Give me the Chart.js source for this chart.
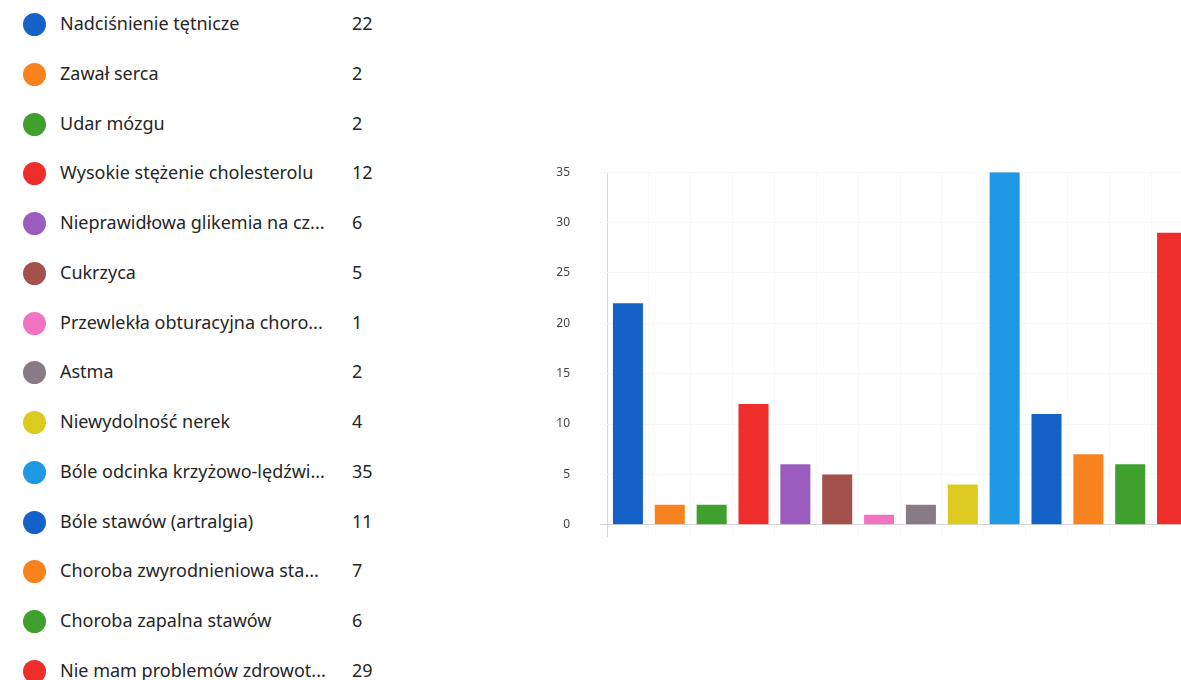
<!DOCTYPE html>
<html>
<head>
<meta charset="utf-8">
<script src="https://cdn.jsdelivr.net/npm/chart.js@4.4.1/dist/chart.umd.min.js"></script>
<style>
  html, body { margin: 0; padding: 0; background: #fff; width: 1181px; height: 680px; overflow: hidden; position: relative; }
  #legend { position: absolute; left: 0; top: 0; width: 400px; font-family: "Noto Sans", "Open Sans", sans-serif; font-size: 18px; color: #262626; }
  .row { position: absolute; left: 0; height: 30px; width: 400px; }
  .dot { position: absolute; left: 23px; top: 3px; width: 23px; height: 23px; border-radius: 50%; }
  .lbl { position: absolute; left: 60px; top: 1px; white-space: nowrap; }
  .val { position: absolute; left: 352px; top: 1px; }
  #wrap { position: absolute; left: 540px; top: 135px; width: 653px; height: 427px; }
</style>
</head>
<body>
<div id="legend"></div>
<div id="wrap"><canvas id="chart"></canvas></div>
<script>
const kategorie = [
    'Nadciśnienie tętnicze',
    'Zawał serca',
    'Udar mózgu',
    'Wysokie stężenie cholesterolu',
    'Nieprawidłowa glikemia na cz...',
    'Cukrzyca',
    'Przewlekła obturacyjna choro...',
    'Astma',
    'Niewydolność nerek',
    'Bóle odcinka krzyżowo-lędźwi...',
    'Bóle stawów (artralgia)',
    'Choroba zwyrodnieniowa sta...',
    'Choroba zapalna stawów',
    'Nie mam problemów zdrowot...'
];
const odpowiedzi = [22, 2, 2, 12, 6, 5, 1, 2, 4, 35, 11, 7, 6, 29];
const kolory = [
    '#1462c8', '#f7821e', '#3fa02e', '#ee2e2a', '#9a5cbf', '#a3514a', '#f272c4',
    '#877b86', '#dccb1e', '#1e98e2', '#1462c8', '#f7821e', '#3fa02e', '#ee2e2a'
];
const osY = [0, 5, 10, 15, 20, 25, 30, 35];

// legenda po lewej
const legend = document.getElementById('legend');
legend.innerHTML = kategorie.map((k, i) => `
    <div class="row" style="top:${10 + i * 49.75}px">
        <span class="dot" style="background:${kolory[i]}"></span>
        <span class="lbl">${k}</span>
        <span class="val">${odpowiedzi[i]}</span>
    </div>`).join('');

const ctx = document.getElementById('chart').getContext('2d');
new Chart(ctx, {
    type: 'bar',
    data: {
        labels: kategorie,
        datasets: [{
            data: odpowiedzi,
            backgroundColor: kolory,
            borderWidth: 0,
            categoryPercentage: 1,
            barPercentage: 0.717
        }]
    },
    options: {
        responsive: true, maintainAspectRatio: false,
        animation: false,
        layout: { padding: { top: 0, right: 0, bottom: 0, left: 0 } },
        plugins: { legend: { display: false }, tooltip: { enabled: false } },
        scales: {
            x: {
                ticks: { display: false },
                grid: {
                    color: c => c.index === 0 ? '#d6d6d6' : '#f9f9f9',
                    tickLength: 12
                },
                border: { color: '#d6d6d6' }
            },
            y: {
                min: 0, max: 35,
                afterFit: s => { s.width = 67; },
                afterBuildTicks: s => { s.ticks = osY.map(v => ({ value: v })); },
                ticks: { padding: 30, color: '#444', font: { family: 'Noto Sans', size: 12 } },
                grid: {
                    color: c => c.tick && c.tick.value === 0 ? '#d6d6d6' : '#f7f7f7',
                    tickLength: 7
                },
                border: { display: false }
            }
        }
    }
});
</script>
</body>
</html>
